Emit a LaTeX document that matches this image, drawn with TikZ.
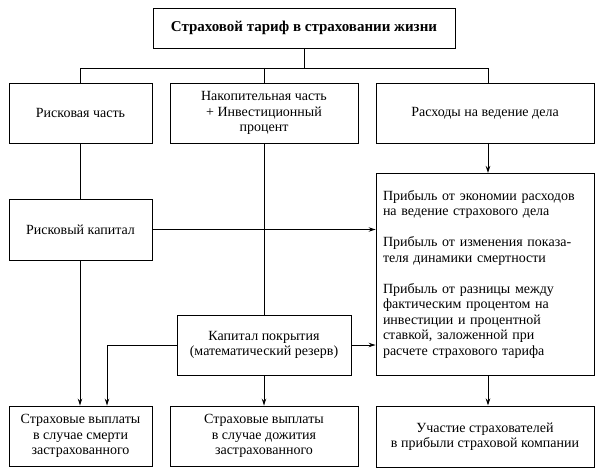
\documentclass[tikz,border=0pt]{standalone}
\usepackage{fontspec}
\setmainfont{Liberation Serif}
\usetikzlibrary{arrows.meta}
\begin{document}
\begin{tikzpicture}[x=1pt,y=-1pt,
  box/.style={draw,line width=0.9pt,inner sep=0pt,align=center,
    font=\fontsize{14}{15.5}\selectfont},
  conn/.style={line width=0.9pt},
  arr/.style={line width=0.9pt,-{Stealth[length=7pt,width=4.5pt]}}]
\useasboundingbox (0,0) rectangle (595,476);
\fill[white] (0,0) rectangle (595,476);
% boxes
\node[box,minimum width=302pt,minimum height=40pt,font=\fontsize{15}{17}\selectfont\bfseries] (top) at (304,28) {Страховой тариф в страховании жизни};
\node[box,minimum width=143pt,minimum height=60pt] (r1) at (80.5,113) {Рисковая часть};
\node[box,minimum width=188pt,minimum height=60pt] (r2) at (264,113) {Накопительная часть\\+ Инвестиционный\\процент};
\node[box,minimum width=218pt,minimum height=60pt] (r3) at (485,113) {Расходы на ведение дела};
\node[box,minimum width=143pt,minimum height=61pt] (rk) at (80.5,229.5) {Рисковый капитал};
\node[box,minimum width=218pt,minimum height=202pt,align=left,text width=204pt,inner xsep=7pt] (big) at (485,274) {Прибыль от экономии расходов\\на ведение страхового дела\\[15.5pt]Прибыль от изменения показа-\\теля динамики смертности\\[15.5pt]Прибыль от разницы между\\фактическим процентом на\\инвестиции и процентной\\ставкой, заложенной при\\расчете страхового тарифа};
\node[box,minimum width=174pt,minimum height=60pt] (kp) at (264,345) {Капитал покрытия\\(математический резерв)};
\node[box,minimum width=143pt,minimum height=60pt] (b1) at (80.5,436) {Страховые выплаты\\в случае смерти\\застрахованного};
\node[box,minimum width=188pt,minimum height=60pt] (b2) at (264,436) {Страховые выплаты\\в случае дожития\\застрахованного};
\node[box,minimum width=218pt,minimum height=61pt] (b3) at (485,436.5) {Участие страхователей\\в прибыли страховой компании};
% coordinates
\coordinate (hm) at (304,68);
\coordinate (hl) at (80,68);
\coordinate (hr) at (488,68);
\coordinate (hc) at (264,68);
\coordinate (tr3) at (488,83);
\coordinate (br3) at (488,143);
\coordinate (tbig) at (488,173);
\coordinate (bbig) at (488,375);
\coordinate (tb3) at (488,405.5);
\coordinate (kl) at (107,345);
% connectors
\draw[conn] (top.south) -- (hm);
\draw[conn] (hl |- r1.north) -- (hl) -- (hr) -- (tr3);
\draw[conn] (hc) -- (r2.north);
\draw[conn] (hl |- r1.south) -- (hl |- rk.north);
\draw[conn] (r2.south) -- (kp.north);
\draw[arr] (br3) -- (tbig);
\draw[arr] (rk.east) -- (rk.east -| big.west);
\draw[arr] (hl |- rk.south) -- (hl |- b1.north);
\draw[arr] (kp.west) -- (kl) -- (kl |- b1.north);
\draw[arr] (kp.east) -- (kp.east -| big.west);
\draw[arr] (kp.south) -- (b2.north);
\draw[arr] (bbig) -- (tb3);
\end{tikzpicture}
\end{document}
